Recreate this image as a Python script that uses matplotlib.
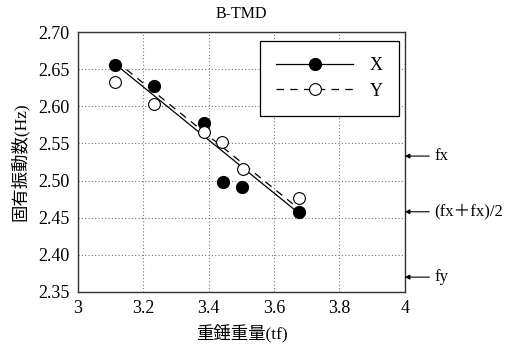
import matplotlib

matplotlib.use("Agg")
import matplotlib.pyplot as plt

plt.rcParams["font.family"] = ["Liberation Serif", "Noto Sans CJK JP"]

# measured points
weight_x = [3.113, 3.233, 3.386, 3.445, 3.503, 3.676]
freq_x = [2.656, 2.627, 2.577, 2.498, 2.492, 2.458]
weight_y = [3.113, 3.232, 3.386, 3.442, 3.504, 3.676]
freq_y = [2.633, 2.603, 2.566, 2.552, 2.515, 2.476]

# trend lines
line_w = [3.116, 3.676]
line_x = [2.656, 2.456]
line_y = [2.661, 2.462]

# reference frequencies marked on the right
ref_labels = ["fx", "(fx\uff0bfx)/2", "fy"]
ref_values = [2.533, 2.458, 2.370]

x_ticks = [3, 3.2, 3.4, 3.6, 3.8, 4]
x_tick_labels = ["3", "3.2", "3.4", "3.6", "3.8", "4"]
y_ticks = [2.35, 2.40, 2.45, 2.50, 2.55, 2.60, 2.65, 2.70]

fig = plt.figure(figsize=(5.15, 3.52), dpi=100)
ax = fig.add_axes([0.1515, 0.1705, 0.6345, 0.7385])

ax.plot(line_w, line_x, color="black", linewidth=0.9, label="_nolegend_")
ax.plot(line_w, line_y, color="black", linewidth=0.9, linestyle=(0, (6, 5)),
        label="_nolegend_")
ax.plot(weight_x, freq_x, linestyle="none", marker="o", markersize=8.5,
        markerfacecolor="black", markeredgecolor="black")
ax.plot(weight_y, freq_y, linestyle="none", marker="o", markersize=8.5,
        markerfacecolor="white", markeredgecolor="black", markeredgewidth=0.8)

# legend proxies
h_x, = ax.plot([], [], color="black", linewidth=0.9, marker="o", markersize=8.5,
               markerfacecolor="black", markeredgecolor="black")
h_y, = ax.plot([], [], color="black", linewidth=0.9, linestyle=(0, (6, 5)),
               marker="o", markersize=8.5, markerfacecolor="white",
               markeredgecolor="black", markeredgewidth=0.8)
leg = ax.legend([h_x, h_y], ["X", "Y"], loc="upper right",
                bbox_to_anchor=(0.982, 0.965), borderaxespad=0,
                fancybox=False, framealpha=1, edgecolor="black", fontsize=13,
                handlelength=4.3, handletextpad=0.9, borderpad=0.9,
                labelspacing=0.45)
leg.get_frame().set_linewidth(0.9)

ax.set_xlim(3, 4)
ax.set_ylim(2.35, 2.70)
ax.set_xticks(x_ticks)
ax.set_xticklabels(x_tick_labels)
ax.set_yticks(y_ticks)
ax.set_yticklabels([f"{v:.2f}" for v in y_ticks])
ax.tick_params(length=0, labelsize=13, pad=6)
ax.grid(True, color="#777777", linestyle=(0, (1, 2)), linewidth=0.8)
for side in ax.spines.values():
    side.set_linewidth(1.0)
    side.set_color("#333333")

ax.set_title("B-TMD", fontsize=11.5, pad=10)
ax.set_xlabel("重錘重量(tf)", fontsize=12.5, labelpad=5)
ax.set_ylabel("固有振動数(Hz)", fontsize=12.5, labelpad=7)

for text, value in zip(ref_labels, ref_values):
    ax.annotate("", xy=(1.0, value), xycoords=("axes fraction", "data"),
                xytext=(1.075, value), textcoords=("axes fraction", "data"),
                arrowprops=dict(arrowstyle="-|>", color="black", lw=0.8,
                                mutation_scale=7, shrinkA=0, shrinkB=0),
                annotation_clip=False)
    ax.text(1.09, value, text, transform=ax.get_yaxis_transform(),
            va="center", ha="left", fontsize=12, clip_on=False)

fig.savefig("out.png", dpi=100)
plt.close(fig)
